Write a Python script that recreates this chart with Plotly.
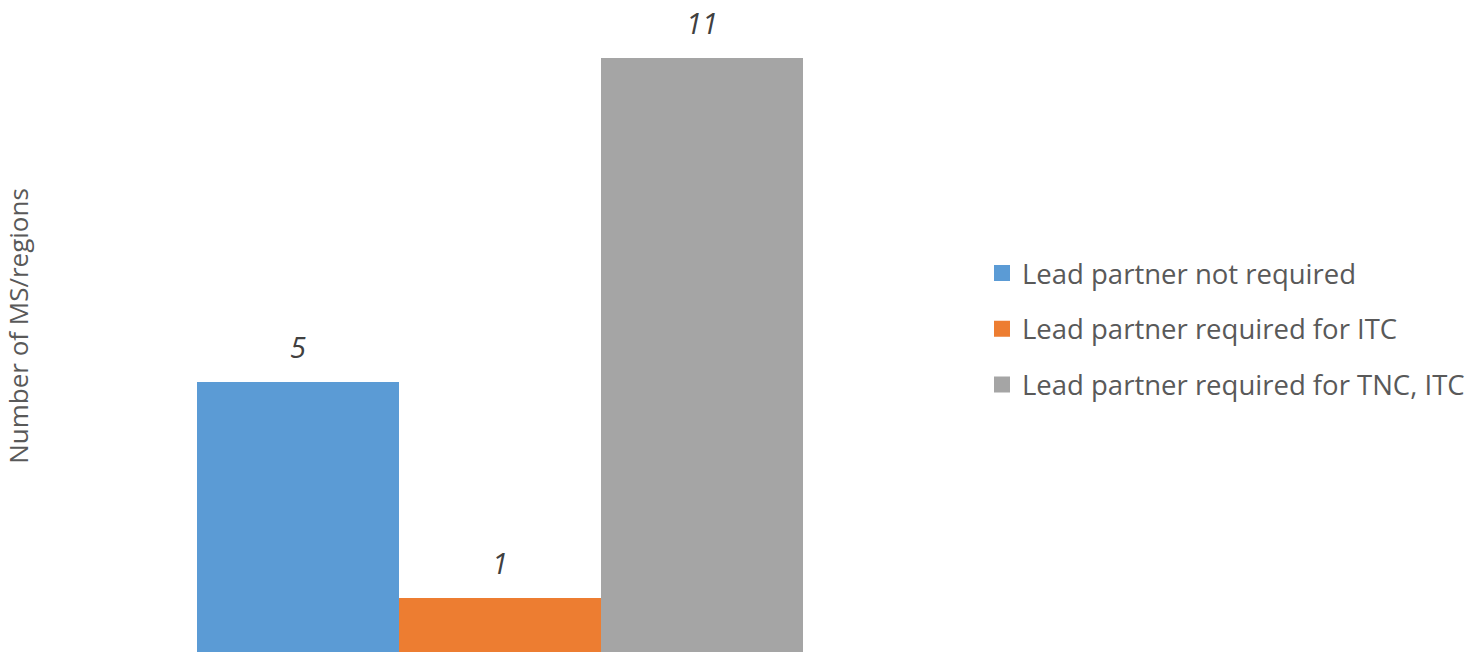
import plotly.graph_objects as go

categories = ["Lead partner not required", "Lead partner required for ITC", "Lead partner required for TNC, ITC"]
values = [5, 1, 11]
colors = ["#5B9BD5", "#ED7D31", "#A5A5A5"]
y_title = "Number of MS/regions"

FONT = "Open Sans"

fig = go.Figure()
for i, (name, v, c) in enumerate(zip(categories, values, colors)):
    fig.add_trace(go.Bar(
        x=[i], y=[v], width=1, name=name, marker=dict(color=c, line=dict(width=0)),
        legendgroup=name, showlegend=False, hoverinfo="skip",
    ))
    # legend entry with a larger square swatch
    fig.add_trace(go.Scatter(
        x=[None], y=[None], mode="markers", name=name, legendgroup=name,
        marker=dict(symbol="square", size=18, color=c, line=dict(width=0)),
        hoverinfo="skip",
    ))
    fig.add_annotation(
        x=i, y=v, text="<i>%s</i>" % v, showarrow=False, yanchor="bottom", yshift=14,
        font=dict(family=FONT, size=29, color="#404040"),
    )

fig.update_layout(
    width=1474, height=652,
    margin=dict(l=197, r=671, t=0, b=0),
    barmode="overlay",
    plot_bgcolor="white", paper_bgcolor="white",
    font=dict(family=FONT, color="#595959"),
    showlegend=True,
    legend=dict(
        xref="container", yref="container", x=982 / 1474, y=1 - 329 / 652,
        xanchor="left", yanchor="middle",
        font=dict(family=FONT, size=27.5, color="#595959"),
        tracegroupgap=17, traceorder="grouped", itemwidth=30,
    ),
    xaxis=dict(range=[-0.5, 2.5], showticklabels=False, showgrid=False, zeroline=False, showline=False, ticks=""),
    yaxis=dict(range=[0, 652 / 54], showticklabels=False, showgrid=False, zeroline=False, showline=False, ticks="",
               title=dict(text=y_title, standoff=159, font=dict(family=FONT, size=26, color="#595959")),
               automargin=False),
)

fig.write_html("out.html", config={"displayModeBar": False},
               post_script="document.body.style.margin='0';document.body.style.overflow='hidden';")
